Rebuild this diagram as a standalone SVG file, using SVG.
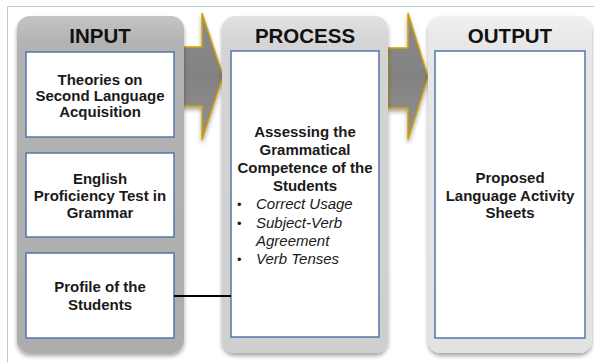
<svg xmlns="http://www.w3.org/2000/svg" width="594" height="362" viewBox="0 0 594 362">
<defs>
<style>
.hdr{font-family:"Liberation Sans",Arial,sans-serif;font-weight:bold;font-size:20.5px;fill:#111;text-anchor:middle}
.t{font-family:"Liberation Sans",Arial,sans-serif;font-weight:bold;font-size:15px;fill:#1a1a1a;text-anchor:middle}
.it{font-family:"Liberation Sans",Arial,sans-serif;font-style:italic;font-size:15px;fill:#1a1a1a}
.bul{font-family:"Liberation Sans",Arial,sans-serif;font-size:13px;fill:#1a1a1a}
.box{fill:#ffffff;stroke:#5277ab;stroke-width:1.5}
.arrow{fill:url(#ag);stroke:#d1a300;stroke-width:1.5;stroke-linejoin:miter}
.conn{stroke:#000;stroke-width:2;fill:none}
</style>
<linearGradient id="g1" x1="0" y1="0" x2="0" y2="1">
<stop offset="0" stop-color="#c4c4c4"/><stop offset="0.08" stop-color="#b3b3b3"/><stop offset="1" stop-color="#adadad"/>
</linearGradient>
<linearGradient id="g2" x1="0" y1="0" x2="0" y2="1">
<stop offset="0" stop-color="#e2e2e2"/><stop offset="0.08" stop-color="#d4d4d4"/><stop offset="1" stop-color="#cfcfcf"/>
</linearGradient>
<linearGradient id="g3" x1="0" y1="0" x2="0" y2="1">
<stop offset="0" stop-color="#f0f0f0"/><stop offset="0.08" stop-color="#e7e7e7"/><stop offset="1" stop-color="#e2e2e2"/>
</linearGradient>
<linearGradient id="ag" x1="0" y1="0" x2="0" y2="1">
<stop offset="0" stop-color="#8c8c8c"/><stop offset="0.5" stop-color="#828282"/><stop offset="1" stop-color="#929292"/>
</linearGradient>
<filter id="sh" x="-10%" y="-10%" width="120%" height="120%">
<feGaussianBlur in="SourceAlpha" stdDeviation="2"/>
<feOffset dx="0" dy="3" result="b"/>
<feComponentTransfer><feFuncA type="linear" slope="0.35"/></feComponentTransfer>
<feMerge><feMergeNode/><feMergeNode in="SourceGraphic"/></feMerge>
</filter>
</defs>
<rect width="594" height="362" fill="#ffffff"/>
<g id="frame" fill="none" stroke="#b9c9e0" stroke-width="1">
<path d="M7.5 362 V6.5 H594"/>
</g>

<g id="arrows">
<path class="arrow" filter="url(#sh)" d="M183 47 H202 V13 L223 76 L202 140 V106 H183 Z"/>
<path class="arrow" filter="url(#sh)" d="M388 48 H408 V13 L428 77 L408 140 V108 H388 Z"/>
</g>

<g id="input">
<rect x="17" y="16" width="167" height="337" rx="13" fill="url(#g1)" filter="url(#sh)"/>
<text class="hdr" x="100" y="43">INPUT</text>
<g id="input-theories">
<rect class="box" x="26" y="52" width="148" height="85"/>
<text class="t" x="100" y="85">Theories on</text>
<text class="t" x="100" y="101">Second Language</text>
<text class="t" x="100" y="117">Acquisition</text>
</g>
<g id="input-test">
<rect class="box" x="26" y="153" width="148" height="84"/>
<text class="t" x="100" y="183.5">English</text>
<text class="t" x="100" y="200.7">Proficiency Test in</text>
<text class="t" x="100" y="218">Grammar</text>
</g>
<g id="input-profile">
<rect class="box" x="26" y="253" width="148" height="85"/>
<text class="t" x="100" y="292.3">Profile of the</text>
<text class="t" x="100" y="310">Students</text>
</g>
</g>

<g id="process">
<rect x="222" y="16" width="166" height="337" rx="13" fill="url(#g2)" filter="url(#sh)"/>
<text class="hdr" x="305" y="43">PROCESS</text>
<rect class="box" x="231" y="51" width="148" height="286"/>
<text class="t" x="305" y="136.5">Assessing the</text>
<text class="t" x="305" y="154.5">Grammatical</text>
<text class="t" x="305" y="172.5">Competence of the</text>
<text class="t" x="305" y="190.5">Students</text>
<text class="bul" x="237" y="209">•</text>
<text class="it" x="256" y="209.3">Correct Usage</text>
<text class="bul" x="237" y="227.5">•</text>
<text class="it" x="256" y="227.7">Subject-Verb</text>
<text class="it" x="256" y="245.7">Agreement</text>
<text class="bul" x="237" y="264">•</text>
<text class="it" x="256" y="264">Verb Tenses</text>
</g>

<g id="output">
<rect x="428" y="16" width="164" height="337" rx="13" fill="url(#g3)" filter="url(#sh)"/>
<text class="hdr" x="510" y="43">OUTPUT</text>
<rect class="box" x="435" y="51" width="150" height="287"/>
<text class="t" x="510" y="183.3">Proposed</text>
<text class="t" x="510" y="200.7">Language Activity</text>
<text class="t" x="510" y="218">Sheets</text>
</g>

<g id="connectors">
<line class="conn" x1="174" y1="296" x2="231" y2="296"/>
</g>
</svg>
